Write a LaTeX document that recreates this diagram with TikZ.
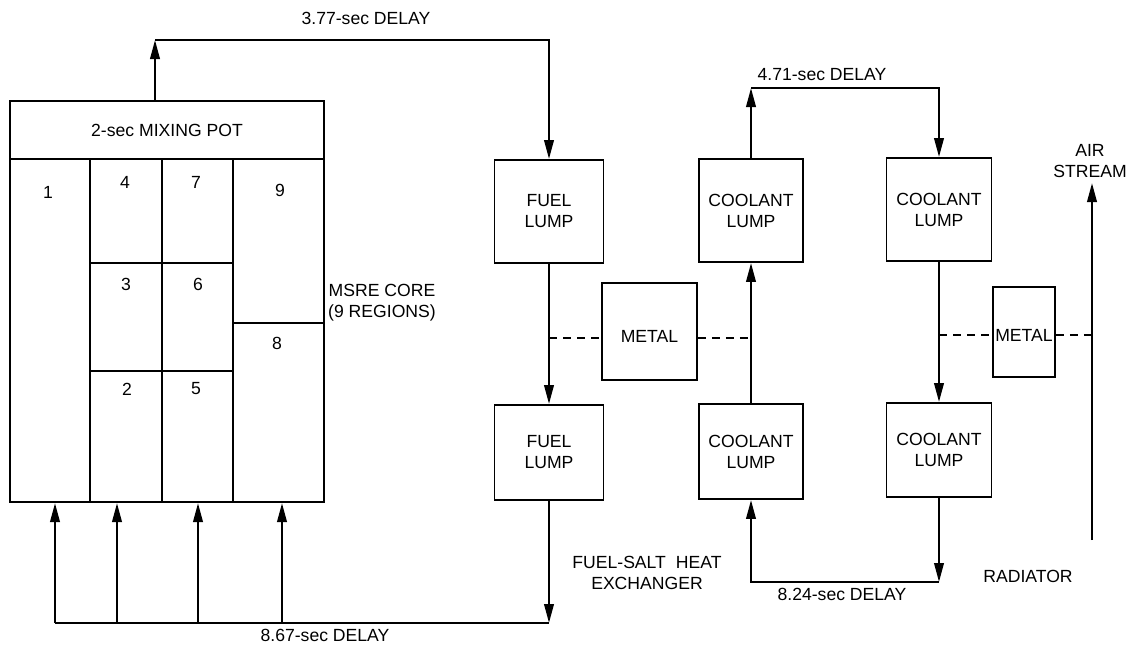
\documentclass[tikz,border=0pt]{standalone}
\usepackage{fontspec}
\setmainfont{Liberation Sans}
\usetikzlibrary{arrows.meta,calc}
\begin{document}
\begin{tikzpicture}[x=1pt,y=-1pt,
  every node/.style={font=\fontsize{17.6}{21}\selectfont},
  box/.style={draw,line width=1.9pt,inner sep=0pt,align=center},
  region/.style={draw,line width=1.4pt,inner sep=0pt},
  flow/.style={line width=2.3pt,-{Triangle[length=19pt,width=9.5pt]}},
  pipe/.style={line width=2.3pt},
  link/.style={line width=1.3pt,dash pattern=on 8pt off 6pt},
  lbl/.style={align=center,inner sep=0pt}]
\useasboundingbox (0,0) rectangle (1128,646);

% ---- MSRE core regions
\node[region,minimum width=80pt,minimum height=343pt] (r1) at (50,330.5) {};
\node[region,minimum width=72pt,minimum height=104pt] (r4) at (126,211) {};
\node[region,minimum width=71pt,minimum height=104pt] (r7) at (197.5,211) {};
\node[region,minimum width=72pt,minimum height=108pt] (r3) at (126,317) {};
\node[region,minimum width=71pt,minimum height=108pt] (r6) at (197.5,317) {};
\node[region,minimum width=72pt,minimum height=131pt] (r2) at (126,436.5) {};
\node[region,minimum width=71pt,minimum height=131pt] (r5) at (197.5,436.5) {};
\node[region,minimum width=91pt,minimum height=164pt] (r9) at (278.5,241) {};
\node[region,minimum width=91pt,minimum height=179pt] (r8) at (278.5,412.5) {};
\node[draw,line width=2.1pt,minimum width=314pt,minimum height=401pt,inner sep=0pt] (core) at (167,301.5) {};
\node[region,line width=1.6pt,minimum width=314pt,minimum height=58pt] (pot) at (167,130) {2-sec MIXING POT};

\node (n1) at (48,192) {1};
\node (n4) at (125,182) {4};
\node (n7) at (196,182) {7};
\node (n9) at (280,190) {9};
\node (n3) at (126,284) {3};
\node (n6) at (198,284) {6};
\node (n8) at (277,343) {8};
\node (n2) at (127,389) {2};
\node (n5) at (196,389) {5};

\node[lbl] (corelbl) at (382,303) {MSRE CORE\\(9 REGIONS)};

% ---- boxes
\node[box,minimum width=109pt,minimum height=103pt] (fuel1) at (549,211.5) {FUEL\\LUMP};
\node[box,minimum width=109pt,minimum height=95pt] (fuel2) at (549,452.5) {FUEL\\LUMP};
\node[box,minimum width=95pt,minimum height=97pt,label={[yshift=-5pt]center:METAL}] (metal1) at (649.5,331.5) {};
\node[box,minimum width=104pt,minimum height=103pt] (cool1) at (751,210.5) {COOLANT\\LUMP};
\node[box,minimum width=104pt,minimum height=95pt] (cool2) at (751,451.5) {COOLANT\\LUMP};
\node[box,minimum width=105pt,minimum height=103pt] (cool3) at (939,209.5) {COOLANT\\LUMP};
\node[box,minimum width=105pt,minimum height=94pt] (cool4) at (939,450) {COOLANT\\LUMP};
\node[box,minimum width=62pt,minimum height=90pt,label={[yshift=-3pt]center:METAL}] (metal2) at (1024,332) {};

% ---- coordinates
\coordinate (t1) at (155,40);
\coordinate (t2) at (549,40);
\coordinate (f1) at (549,623);
\coordinate (b1) at (55,623);
\coordinate (b2) at (117,623);
\coordinate (b3) at (198,623);
\coordinate (b4) at (282,623);
\coordinate (c1) at (751,88);
\coordinate (c2) at (939,88);
\coordinate (c3) at (939,582);
\coordinate (c4) at (751,582);
\coordinate (d1) at (549,338);
\coordinate (d2) at (751,338);
\coordinate (d3) at (939,335);
\coordinate (d4) at (1092,335);
\coordinate (a0) at (1092,540);
\coordinate (a1) at (1092,183);

% ---- fuel loop
\draw[flow] (t1 |- core.north) -- (t1);
\draw[flow] (t1) -- (t2) -- (fuel1.north);
\draw[flow] (fuel1.south) -- (fuel2.north);
\draw[flow] (fuel2.south) -- (f1);
\draw[pipe] (f1) -- (b1);
\draw[flow] (b1) -- (b1 |- core.south);
\draw[flow] (b2) -- (b2 |- core.south);
\draw[flow] (b3) -- (b3 |- core.south);
\draw[flow] (b4) -- (b4 |- core.south);

% ---- coolant loop
\draw[flow] (cool2.north) -- (cool1.south);
\draw[flow] (cool1.north) -- (c1);
\draw[flow] (c1) -- (c2) -- (cool3.north);
\draw[flow] (cool3.south) -- (cool4.north);
\draw[flow] (cool4.south) -- (c3);
\draw[flow] (c3) -- (c4) -- (cool2.south);

% ---- air stream
\draw[flow] (a0) -- (a1);

% ---- heat transfer links
\draw[link] (d1) -- (d1 -| metal1.west);
\draw[link] (d1 -| metal1.east) -- (d2);
\draw[link] (d3) -- (d3 -| metal2.west);
\draw[link] (d3 -| metal2.east) -- (d4);

% ---- labels
\node[lbl] (l377) at (366,18) {3.77-sec DELAY};
\node[lbl] (l471) at (822,75) {4.71-sec DELAY};
\node[lbl] (l824) at (842,594) {8.24-sec DELAY};
\node[lbl] (l867) at (325,635) {8.67-sec DELAY};
\node[lbl] (lhx) at (647,573) {FUEL-SALT\hspace{10pt}HEAT\\EXCHANGER};
\node[lbl] (lrad) at (1028,576) {RADIATOR};
\node[lbl] (lair) at (1090,161) {AIR\\STREAM};
\end{tikzpicture}
\end{document}
